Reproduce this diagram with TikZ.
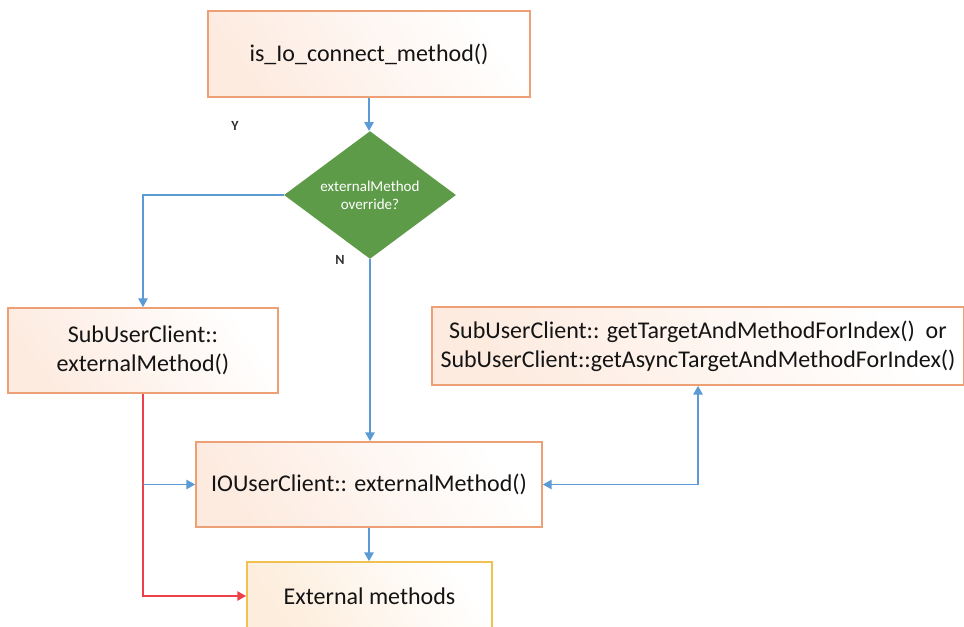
\documentclass[tikz,border=0pt]{standalone}
\usepackage{fontspec}
\setmainfont{Carlito}
\usetikzlibrary{arrows.meta,shapes.geometric}

\definecolor{boxline}{RGB}{237,160,118}
\definecolor{boxtint}{RGB}{253,235,224}
\definecolor{goldline}{RGB}{240,192,80}
\definecolor{goldtint}{RGB}{253,237,220}
\definecolor{decgreen}{RGB}{94,155,72}
\definecolor{flowblue}{RGB}{91,155,213}
\definecolor{flowred}{RGB}{238,64,72}
\definecolor{textdark}{RGB}{20,20,20}

\tikzset{
  procbox/.style={draw=boxline, line width=1.3pt, rectangle, inner sep=0pt,
    left color=boxtint, right color=white, shading angle=125,
    text=textdark, font=\fontsize{18}{22}\selectfont, align=center},
  endbox/.style={procbox, draw=goldline, left color=goldtint, right color=white, shading angle=125},
  decision/.style={diamond, fill=decgreen, draw=none, inner sep=0pt,
    minimum width=129pt, minimum height=94.5pt, text=white,
    font=\fontsize{11.3}{13.5}\selectfont, align=center},
  flow/.style={draw=flowblue, line width=0.9pt, -{Triangle[length=6.5pt,width=7pt]}},
  flowboth/.style={flow, {Triangle[length=6.5pt,width=7pt]}-{Triangle[length=6.5pt,width=7pt]}},
  redflow/.style={draw=flowred, line width=0.9pt, -{Triangle[length=6.5pt,width=7pt]}, color=flowred},
  yn/.style={font=\fontsize{10.5}{12}\selectfont\bfseries, text=black!80}
}

\begin{document}
\begin{tikzpicture}[x=0.75pt, y=-0.75pt]
  \useasboundingbox[fill=white] (0,0) rectangle (964,626);

  % process steps
  \node[procbox, minimum width=241.5pt, minimum height=64.5pt] (start) at (369,54) {is\_Io\_connect\_method()};
  \node[decision] (dec) at (370,195) {externalMethod\\override?};
  \node[procbox, minimum width=202.5pt, minimum height=63.8pt] (sub) at (143,350.5) {SubUserClient::\\externalMethod()};
  \node[procbox, minimum width=398.5pt, minimum height=58.5pt] (tgt) at (698,346)
    {SubUserClient:: getTargetAndMethodForIndex()~~or\\SubUserClient::getAsyncTargetAndMethodForIndex()};
  \node[procbox, minimum width=259.5pt, minimum height=63.8pt] (io) at (369,484.5) {IOUserClient:: externalMethod()};
  \node[endbox, minimum width=183.8pt, minimum height=51pt] (ext) at (369.5,596) {External methods};

  % branch labels
  \node[yn] (ylab) at (235,126) {Y};
  \node[yn] (nlab) at (340,260) {N};

  % connectors
  \draw[flow] (start.south) -- (start.south |- dec.north);
  \draw[flow] (dec.west) -| (sub.north);
  \draw[flow] (dec.south) -- (dec.south |- io.north);
  \draw[redflow] (sub.south) |- (ext.west);
  \coordinate (split) at (sub.south |- io.west);
  \draw[flow] (split) -- (io.west);
  \draw[flowboth] (io.east) -| (tgt.south);
  \draw[flow] (io.south) -- (io.south |- ext.north);
\end{tikzpicture}
\end{document}
